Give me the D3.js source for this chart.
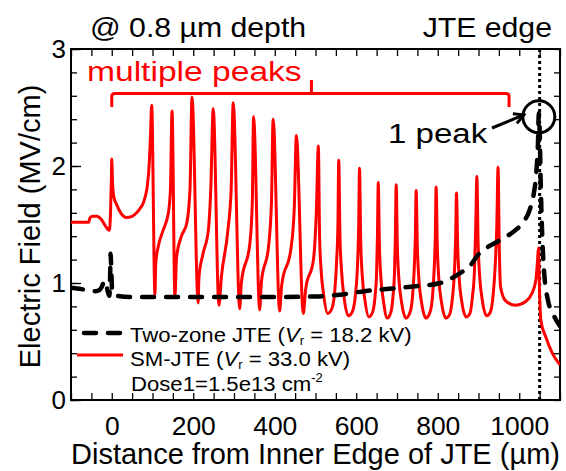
<!DOCTYPE html>
<html><head><meta charset="utf-8">
<script src="https://cdn.jsdelivr.net/npm/d3@7/dist/d3.min.js"></script>
<style>
html,body{margin:0;padding:0;background:#fff;}
text{font-family:"Liberation Sans",Arial,sans-serif;}
</style></head>
<body><svg id="chart" width="566" height="471"></svg>
<script>
// ---------- data ----------
const xTickLabels = [0, 200, 400, 600, 800, 1000];
const yTickLabels = [0, 1, 2, 3];
const seriesNames = ["Two-zone JTE", "SM-JTE"];
const reverseVoltages = ["18.2", "33.0"];
const jteEdge = 1050;

// Two-zone JTE, [distance µm, field MV/cm]
const twoZone = [
 [-100,0.96],[-80,0.95],[-60,0.94],[-40,0.93],[-30,0.94],[-24,0.97],[-18,1.02],[-14,1.0],[-10,0.93],
 [-6,0.89],[-4,1.05],[-3,1.25],[-1,1.1],[1,0.93],[5,0.9],[15,0.89],[50,0.88],[200,0.88],[400,0.88],
 [500,0.885],[560,0.9],[620,0.93],[680,0.95],[740,0.97],[806,1.0],[853,1.08],[880,1.15],[901,1.25],
 [934,1.33],[960,1.38],[990,1.45],[1010,1.52],[1025,1.62],[1035,1.75],[1042,1.95],[1046,2.2],
 [1048,2.45],[1050,2.3],[1053,1.8],[1057,1.35],[1062,1.05],[1070,0.86],[1085,0.72],[1100,0.63]
];

// SM-JTE, [distance µm, field MV/cm]
const smJte = [
 [-100,1.52],[-70,1.52],[-57,1.52],[-53,1.56],[-47,1.57],[-37,1.57],[-25,1.54],[-16,1.49],[-10,1.46],
 [-6,1.45],[-3,1.6],[-1,1.88],[0,2.06],[2,1.85],[5,1.74],[12,1.67],[22,1.6],[36,1.56],[50,1.57],
 [61,1.6],[70,1.64],[77,1.68],[83,1.75],[87,1.82],[92,2.02],[95,2.25],[98,2.52],
 [106,0.90],[108,1.17],[114,1.31],[126,1.45],[139,1.6],[144,1.8],[148,2.47],
 [155,0.88],[159,1.22],[171,1.40],[184,1.51],[192,1.8],[197,2.59],
 [212,0.83],[214,1.05],[224,1.25],[237,1.45],[243,1.8],[249,2.49],
 [263,0.81],[269,1.05],[285,1.45],[293,1.8],[298,2.54],
 [314,0.78],[318,1.0],[339,1.34],[345,1.7],[348,2.42],
 [363,0.77],[367,1.0],[385,1.32],[392,1.7],[396,2.40],
 [412,0.76],[417,0.98],[440,1.3],[448,1.65],[453,2.26],
 [470,0.74],[476,0.95],[495,1.2],[502,1.6],[507,2.17],
 [510,1.4],[514,1.1],[520,0.9],[530,0.74],[540,0.78],[547,0.92],[552,1.2],[555,1.5],[557,2.05],
 [560,1.4],[564,1.1],[570,0.88],[581,0.72],[591,0.76],[598,0.9],[603,1.15],[606,1.5],[608,1.98],
 [611,1.35],[615,1.05],[621,0.86],[631,0.71],[640,0.75],[646,0.88],[650,1.1],[652,1.4],[654,1.86],
 [657,1.3],[661,1.02],[667,0.84],[676,0.70],[685,0.75],[690,0.88],[694,1.1],[696,1.4],[698,1.84],
 [701,1.3],[705,1.02],[711,0.84],[722,0.70],[732,0.75],[738,0.88],[742,1.1],[745,1.4],[747,1.79],
 [750,1.3],[754,1.02],[760,0.84],[771,0.70],[781,0.75],[787,0.88],[791,1.1],[794,1.4],[796,1.82],
 [799,1.3],[803,1.02],[809,0.84],[820,0.70],[829,0.73],[836,0.87],[841,1.1],[844,1.4],[846,1.77],
 [849,1.3],[853,1.02],[859,0.84],[870,0.71],[879,0.74],[885,0.88],[890,1.1],[893,1.45],[896,1.91],
 [899,1.35],[903,1.05],[909,0.86],[920,0.72],[929,0.75],[936,0.9],[941,1.15],[945,1.5],[948,1.99],
 [951,1.3],[954,0.97],[966,0.85],[990,0.81],[1015,0.84],[1031,0.91],[1041,1.03],[1045,1.2],[1047,1.30],
 [1050,0.9],[1053,0.68],[1065,0.54],[1081,0.40],[1100,0.30]
];

// ---------- chart ----------
const svg = d3.select("#chart");
const x = d3.scaleLinear().domain([-100, 1100]).range([71, 560]);
const y = d3.scaleLinear().domain([0, 3]).range([400, 49]);
const [x0, x1] = x.range(), [y0, y1] = y.range();

svg.append("defs").append("clipPath").attr("id", "clip")
  .append("rect").attr("x", x0).attr("y", y1).attr("width", x1 - x0).attr("height", y0 - y1);

const xMinor = d3.range(-100, 1101, 50);
const yMinor = d3.range(0, 3.001, 0.2);

// ticks
svg.append("g").attr("transform", `translate(0,${y0})`)
  .call(d3.axisBottom(x).tickValues(xMinor).tickSizeInner(-7).tickSizeOuter(0).tickFormat(""));
svg.append("g").attr("transform", `translate(0,${y1})`)
  .call(d3.axisTop(x).tickValues(xMinor).tickSizeInner(-7).tickSizeOuter(0).tickFormat(""));
svg.append("g").attr("transform", `translate(${x0},0)`)
  .call(d3.axisLeft(y).tickValues(yMinor).tickSizeInner(-6).tickSizeOuter(0).tickFormat(""));
svg.append("g").attr("transform", `translate(${x0},0)`)
  .call(d3.axisLeft(y).tickValues(yTickLabels).tickSizeInner(-10).tickSizeOuter(0).tickFormat(""));
svg.append("g").attr("transform", `translate(${x1},0)`)
  .call(d3.axisRight(y).tickValues(yMinor).tickSizeInner(-6).tickSizeOuter(0).tickFormat(""));
svg.selectAll(".domain").remove();
svg.selectAll(".tick line").attr("stroke", "#000").attr("stroke-width", 1.3);

// tick labels
const xl = svg.append("g").attr("transform", `translate(0,${y0})`)
  .call(d3.axisBottom(x).tickValues(xTickLabels).tickFormat(d3.format("d")).tickSize(0).tickPadding(0));
xl.select(".domain").remove();
xl.selectAll("text").attr("font-size", 25).attr("fill", "#000").attr("dy", null).attr("y", 35)
  .attr("transform", "scale(1.06,1)")
  .attr("font-family", "Liberation Sans, Arial, sans-serif");
const yl = svg.append("g").attr("transform", `translate(${x0},0)`)
  .call(d3.axisLeft(y).tickValues(yTickLabels).tickFormat(d3.format("d")).tickSize(0).tickPadding(5));
yl.select(".domain").remove();
yl.selectAll("text").attr("font-size", 26).attr("fill", "#000")
  .attr("font-family", "Liberation Sans, Arial, sans-serif");

// frame
svg.append("rect").attr("x", x0).attr("y", y1).attr("width", x1 - x0).attr("height", y0 - y1)
  .attr("fill", "none").attr("stroke", "#000").attr("stroke-width", 2);

// JTE edge dotted line
svg.append("line").attr("x1", x(jteEdge)).attr("x2", x(jteEdge)).attr("y1", y1).attr("y2", y0)
  .attr("stroke", "#000").attr("stroke-width", 3).attr("stroke-dasharray", "3,3");

const line = d3.line().x(d => x(d[0])).y(d => y(d[1])).curve(d3.curveMonotoneX);
const plot = svg.append("g").attr("clip-path", "url(#clip)");
plot.append("path").datum(smJte).attr("d", line)
  .attr("fill", "none").attr("stroke", "#ff0000").attr("stroke-width", 3).attr("stroke-linejoin", "round");
plot.append("path").datum(twoZone).attr("d", line)
  .attr("fill", "none").attr("stroke", "#000").attr("stroke-width", 4.5)
  .attr("stroke-dasharray", "12,12").attr("stroke-linecap", "round");

// stretched text helper
function label(px, py, str, size, sx, anchor, fill) {
  return svg.append("text").attr("transform", `translate(${px},${py}) scale(${sx},1)`)
    .attr("font-size", size).attr("text-anchor", anchor || "start").attr("fill", fill || "#000").text(str);
}

// annotations
label(90, 37, "@ 0.8 µm depth", 28, 1.08);
label(552, 37, "JTE edge", 28, 1.08, "end");
label(87, 81, "multiple peaks", 28, 1.2, "start", "#ff0000");

// bracket
const bl = x(0), br = x(975), bm = x(490), by = 93.5;
svg.append("path")
  .attr("d", `M${bl},107 L${bl},${by+3} Q${bl},${by} ${bl+3},${by} L${br-3},${by} Q${br},${by} ${br},${by+3} L${br},107 M${bm},${by} L${bm},80`)
  .attr("fill", "none").attr("stroke", "#ff0000").attr("stroke-width", 3);

// circle + arrow
svg.append("circle").attr("cx", x(1048)).attr("cy", y(2.42)).attr("r", 16)
  .attr("fill", "none").attr("stroke", "#000").attr("stroke-width", 3);
label(388, 143, "1 peak", 28, 1.18);
const ax0 = 492, ay0 = 128, ax1 = x(1048) - 15, ay1 = y(2.42) - 2;
svg.append("line").attr("x1", ax0).attr("y1", ay0).attr("x2", ax1).attr("y2", ay1)
  .attr("stroke", "#000").attr("stroke-width", 3);
const ang = Math.atan2(ay1 - ay0, ax1 - ax0);
const hl = 11, ha = 0.5;
svg.append("path")
  .attr("d", `M${ax1 - hl*Math.cos(ang-ha)},${ay1 - hl*Math.sin(ang-ha)} L${ax1},${ay1} L${ax1 - hl*Math.cos(ang+ha)},${ay1 - hl*Math.sin(ang+ha)}`)
  .attr("fill", "none").attr("stroke", "#000").attr("stroke-width", 3).attr("stroke-linejoin", "miter");

// legend
const lg = svg.append("g");
lg.append("line").attr("x1", 84).attr("x2", 121).attr("y1", 333).attr("y2", 333)
  .attr("stroke", "#000").attr("stroke-width", 4.5).attr("stroke-dasharray", "12,12").attr("stroke-linecap", "round");
lg.append("line").attr("x1", 77).attr("x2", 123).attr("y1", 355).attr("y2", 355)
  .attr("stroke", "#ff0000").attr("stroke-width", 3);
[[342, 0], [366, 1]].forEach(([yy, i]) => {
  const t = lg.append("text").attr("transform", `translate(130,${yy}) scale(1.08,1)`).attr("font-size", 20.5);
  t.append("tspan").text(seriesNames[i] + " (");
  t.append("tspan").attr("font-style", "italic").text("V");
  t.append("tspan").attr("font-size", 12).attr("dy", 3).text("r");
  t.append("tspan").attr("dy", -3).text(" = " + reverseVoltages[i] + " kV)");
});
const dt = lg.append("text").attr("transform", "translate(131,391) scale(1.08,1)").attr("font-size", 20.5);
dt.append("tspan").text("Dose1=1.5e13 cm");
dt.append("tspan").attr("font-size", 12).attr("dy", -9).text("-2");

// axis titles
svg.append("text").attr("x", (x0 + x1) / 2).attr("y", 464).attr("font-size", 29)
  .attr("text-anchor", "middle").text("Distance from Inner Edge of JTE (µm)");
svg.append("text").attr("transform", `translate(40,${(y0 + y1) / 2 + 2}) rotate(-90)`)
  .attr("font-size", 29).attr("text-anchor", "middle").text("Electric Field (MV/cm)");
</script></body></html>
